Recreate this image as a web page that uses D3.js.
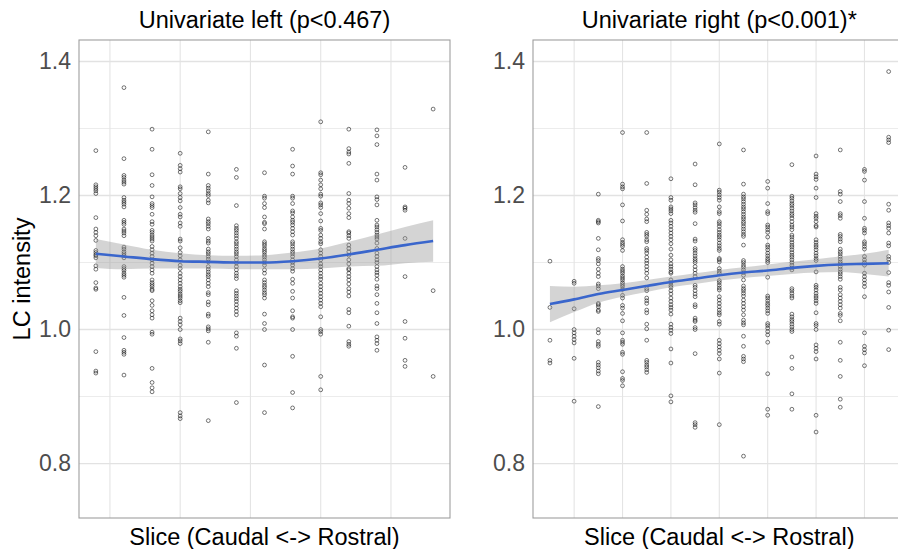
<!DOCTYPE html>
<html>
<head>
<meta charset="utf-8">
<script src="https://cdn.jsdelivr.net/npm/d3@7"></script>
<style>
  html, body { margin: 0; padding: 0; background: #fff; }
  svg { display: block; }
  text { font-family: "Liberation Sans", Arial, Helvetica, sans-serif; }
</style>
</head>
<body>
<svg id="chart" width="898" height="549"></svg>
<script>
// ---------------- DATA ----------------
const panelTitles = ["Univariate left (p<0.467)", "Univariate right (p<0.001)*"];
const xTitle = "Slice (Caudal <-> Rostral)";
const yTitle = "LC intensity";
const yMajorTicks = [0.8, 1.0, 1.2, 1.4];
const yMinorTicks = [0.9, 1.1, 1.3];
const leftXGrid = [1.5, 4, 6.5, 9, 11.5];
const rightXGrid = [2, 4, 6, 8, 10, 12, 14];

// points per slice (slice index = position in array + 1)
const leftPoints = [
  [1.267,1.216,1.213,1.21,1.207,1.203,1.167,1.15,1.145,1.14,1.133,1.118,1.115,1.112,1.11,1.107,1.095,1.09,1.07,1.062,1.06,0.967,0.938,0.935],
  [1.361,1.255,1.230,1.227,1.223,1.220,1.217,1.197,1.193,1.190,1.187,1.183,1.163,1.160,1.157,1.150,1.147,1.144,1.140,1.123,1.120,1.116,1.113,1.110,1.107,1.094,1.091,1.088,1.084,1.081,1.078,1.048,1.021,0.988,0.969,0.966,0.963,0.932],
  [1.299,1.269,1.231,1.215,1.198,1.188,1.185,1.182,1.172,1.161,1.157,1.148,1.145,1.141,1.138,1.135,1.132,1.124,1.119,1.114,1.109,1.104,1.099,1.094,1.089,1.084,1.074,1.070,1.067,1.064,1.060,1.058,1.043,1.036,1.028,1.022,1.017,0.996,0.993,0.942,0.921,0.913,0.907],
  [1.263,1.245,1.240,1.235,1.213,1.210,1.203,1.197,1.192,1.182,1.172,1.168,1.159,1.154,1.135,1.132,1.122,1.115,1.110,1.104,1.096,1.091,1.084,1.079,1.074,1.069,1.064,1.060,1.057,1.053,1.050,1.047,1.043,1.040,1.017,1.012,1.007,1.000,0.986,0.983,0.979,0.876,0.871,0.867],
  [1.295,1.232,1.215,1.211,1.207,1.203,1.200,1.193,1.189,1.165,1.161,1.158,1.154,1.150,1.136,1.132,1.129,1.120,1.116,1.113,1.109,1.105,1.101,1.094,1.090,1.086,1.082,1.079,1.074,1.069,1.064,1.055,1.052,1.041,1.037,1.023,1.020,1.004,1.001,0.998,0.981,0.864],
  [1.239,1.227,1.185,1.155,1.151,1.148,1.144,1.140,1.136,1.131,1.128,1.124,1.120,1.116,1.113,1.109,1.104,1.099,1.094,1.089,1.084,1.080,1.076,1.058,1.054,1.050,1.046,1.042,1.037,1.032,1.027,1.022,0.995,0.990,0.972,0.891],
  [1.234,1.199,1.196,1.188,1.182,1.168,1.160,1.158,1.150,1.131,1.128,1.125,1.121,1.118,1.115,1.111,1.108,1.104,1.100,1.096,1.089,1.084,1.074,1.070,1.066,1.063,1.059,1.055,1.052,1.047,1.023,1.009,1.000,0.947,0.876],
  [1.269,1.244,1.232,1.199,1.196,1.188,1.177,1.174,1.168,1.163,1.160,1.156,1.151,1.146,1.141,1.131,1.128,1.124,1.120,1.116,1.113,1.109,1.104,1.100,1.096,1.091,1.087,1.075,1.069,1.057,1.047,1.028,1.019,1.017,1.000,0.960,0.906,0.883],
  [1.310,1.234,1.231,1.223,1.216,1.210,1.202,1.199,1.189,1.186,1.182,1.173,1.162,1.151,1.148,1.141,1.136,1.131,1.128,1.119,1.114,1.109,1.104,1.098,1.094,1.089,1.084,1.079,1.075,1.069,1.064,1.059,1.054,1.049,1.044,1.039,1.034,1.019,1.000,0.997,0.993,0.930,0.910],
  [1.299,1.270,1.265,1.262,1.248,1.203,1.193,1.188,1.181,1.173,1.167,1.146,1.144,1.140,1.136,1.126,1.121,1.116,1.111,1.104,1.098,1.091,1.089,1.084,1.079,1.074,1.068,1.061,1.056,1.050,1.030,1.025,1.005,0.982,0.978,0.975],
  [1.298,1.289,1.276,1.232,1.223,1.198,1.194,1.186,1.163,1.156,1.153,1.149,1.145,1.141,1.138,1.135,1.129,1.121,1.114,1.109,1.104,1.100,1.094,1.089,1.085,1.081,1.075,1.065,1.061,1.052,1.039,1.025,1.009,0.989,0.984,0.979,0.969],
  [1.242,1.183,1.181,1.178,1.136,1.079,1.012,0.987,0.954,0.945],
  [1.329,1.058,0.930]
];
const rightPoints = [
  [1.102,1.033,0.984,0.954,0.950],
  [1.072,1.069,1.031,1.000,0.995,0.990,0.985,0.980,0.957,0.893],
  [1.202,1.163,1.161,1.159,1.136,1.119,1.106,1.103,1.098,1.090,1.084,1.079,1.068,1.065,1.061,1.039,1.037,1.034,1.029,1.027,1.000,0.995,0.982,0.978,0.975,0.951,0.947,0.943,0.938,0.934,0.885],
  [1.294,1.217,1.213,1.210,1.186,1.162,1.134,1.130,1.127,1.124,1.118,1.094,1.090,1.087,1.084,1.080,1.077,1.074,1.070,1.067,1.064,1.060,1.051,1.047,1.036,1.032,1.024,1.013,0.995,0.984,0.981,0.978,0.966,0.963,0.937,0.927,0.924,0.916],
  [1.294,1.218,1.178,1.172,1.165,1.161,1.145,1.142,1.139,1.134,1.131,1.121,1.118,1.114,1.108,1.103,1.099,1.094,1.089,1.084,1.077,1.061,1.058,1.047,1.043,1.039,1.029,1.025,1.008,1.001,0.984,0.954,0.951,0.947,0.944,0.940,0.936],
  [1.225,1.197,1.193,1.183,1.180,1.177,1.173,1.163,1.159,1.154,1.149,1.144,1.139,1.134,1.128,1.120,1.111,1.104,1.098,1.094,1.090,1.086,1.084,1.074,1.070,1.066,1.063,1.058,1.053,1.047,1.042,1.037,1.033,1.029,1.023,1.008,1.003,0.999,0.994,0.971,0.950,0.901,0.892],
  [1.247,1.216,1.189,1.186,1.182,1.178,1.175,1.158,1.135,1.132,1.121,1.118,1.114,1.110,1.106,1.103,1.100,1.094,1.089,1.084,1.079,1.066,1.063,1.058,1.053,1.049,1.037,1.034,1.017,1.014,1.012,1.003,1.000,0.964,0.861,0.858,0.854],
  [1.277,1.208,1.205,1.201,1.197,1.193,1.183,1.176,1.173,1.161,1.158,1.154,1.149,1.145,1.141,1.138,1.134,1.129,1.125,1.121,1.118,1.106,1.104,1.101,1.091,1.087,1.084,1.073,1.070,1.066,1.062,1.059,1.049,1.044,1.039,1.034,1.029,1.025,1.022,1.012,1.008,0.984,0.979,0.974,0.969,0.964,0.956,0.935,0.858],
  [1.268,1.217,1.202,1.198,1.195,1.191,1.187,1.183,1.180,1.176,1.172,1.168,1.165,1.161,1.158,1.154,1.150,1.146,1.142,1.139,1.126,1.103,1.100,1.096,1.093,1.089,1.085,1.081,1.074,1.065,1.061,1.058,1.054,1.050,1.044,1.039,1.034,1.029,1.022,1.014,1.010,1.007,0.990,0.975,0.960,0.956,0.952,0.811],
  [1.221,1.211,1.188,1.176,1.173,1.156,1.153,1.149,1.145,1.138,1.126,1.123,1.119,1.114,1.110,1.106,1.103,1.100,1.078,1.050,1.047,1.043,1.039,1.036,1.032,1.028,1.024,1.009,1.006,1.002,0.997,0.992,0.981,0.934,0.881,0.872],
  [1.246,1.199,1.196,1.192,1.188,1.185,1.181,1.177,1.173,1.170,1.166,1.161,1.156,1.153,1.149,1.141,1.138,1.134,1.130,1.126,1.123,1.119,1.115,1.111,1.108,1.104,1.100,1.096,1.092,1.089,1.061,1.058,1.054,1.050,1.047,1.023,1.019,1.015,1.012,1.008,1.004,1.000,0.997,0.959,0.942,0.904,0.881],
  [1.259,1.232,1.228,1.224,1.211,1.197,1.173,1.169,1.166,1.161,1.155,1.153,1.134,1.130,1.126,1.123,1.119,1.114,1.110,1.106,1.103,1.086,1.066,1.063,1.059,1.054,1.050,1.047,1.043,1.039,1.025,1.009,1.006,1.000,0.977,0.972,0.967,0.956,0.872,0.847],
  [1.268,1.206,1.202,1.191,1.173,1.170,1.166,1.142,1.139,1.135,1.131,1.120,1.116,1.113,1.109,1.105,1.101,1.098,1.094,1.090,1.086,1.083,1.079,1.075,1.063,1.059,1.052,1.047,1.042,1.037,1.032,1.024,1.021,1.013,0.981,0.954,0.930,0.896,0.884],
  [1.239,1.236,1.223,1.191,1.166,1.151,1.148,1.144,1.131,1.128,1.124,1.120,1.109,1.104,1.100,1.096,1.084,1.079,1.074,1.069,1.064,1.049,0.995,0.975,0.970,0.965,0.946],
  [1.385,1.287,1.283,1.279,1.187,1.178,1.159,1.155,1.151,1.144,1.129,1.125,1.109,1.105,1.100,1.085,1.070,1.066,1.056,1.033,0.999,0.970]
];

// smooth fit (per slice) and confidence band
const leftFit = [1.113,1.109,1.105,1.102,1.101,1.100,1.100,1.102,1.106,1.112,1.119,1.126,1.132];
const leftHi  = [1.135,1.127,1.119,1.114,1.111,1.110,1.111,1.115,1.121,1.131,1.142,1.153,1.163];
const leftLo  = [1.092,1.090,1.091,1.091,1.091,1.090,1.090,1.090,1.091,1.094,1.095,1.099,1.101];
const rightFit = [1.038,1.045,1.053,1.059,1.065,1.071,1.076,1.081,1.085,1.088,1.092,1.095,1.097,1.098,1.099];
const rightHi  = [1.065,1.064,1.066,1.069,1.074,1.079,1.084,1.089,1.093,1.097,1.101,1.105,1.109,1.113,1.119];
const rightLo  = [1.011,1.026,1.040,1.049,1.056,1.063,1.068,1.073,1.077,1.080,1.083,1.085,1.086,1.083,1.079];

// ---------------- LAYOUT ----------------
const svg = d3.select("#chart");
svg.append("rect").attr("width", 898).attr("height", 549).attr("fill", "#fff");

const yTop = 40, yBottom = 518;
const y = d3.scaleLinear().domain([0.7187, 1.4321]).range([yBottom, yTop]);

const panels = [
  { title: panelTitles[0], pts: leftPoints, fit: leftFit, hi: leftHi, lo: leftLo, xGrid: leftXGrid, x0: 79, x1: 450 },
  { title: panelTitles[1], pts: rightPoints, fit: rightFit, hi: rightHi, lo: rightLo, xGrid: rightXGrid, x0: 533, x1: 905.6 }
];

panels.forEach((p) => {
  const n = p.pts.length;
  const pad = (n - 1) * 0.05;
  const x = d3.scaleLinear().domain([1 - pad, n + pad]).range([p.x0, p.x1]);
  const g = svg.append("g");

  // grid
  g.selectAll(".ymin").data(yMinorTicks).join("line").attr("class", "ymin")
    .attr("x1", p.x0).attr("x2", p.x1).attr("y1", d => y(d)).attr("y2", d => y(d))
    .attr("stroke", "#ececec").attr("stroke-width", 1);
  g.selectAll(".xg").data(p.xGrid).join("line").attr("class", "xg")
    .attr("x1", d => x(d)).attr("x2", d => x(d)).attr("y1", yTop).attr("y2", yBottom)
    .attr("stroke", "#e4e4e4").attr("stroke-width", 1.1);
  g.selectAll(".ymaj").data(yMajorTicks).join("line").attr("class", "ymaj")
    .attr("x1", p.x0).attr("x2", p.x1).attr("y1", d => y(d)).attr("y2", d => y(d))
    .attr("stroke", "#e2e2e2").attr("stroke-width", 1.3);

  // points
  const flat = [];
  p.pts.forEach((arr, i) => arr.forEach(v => flat.push({ s: i + 1, v })));
  g.selectAll("circle").data(flat).join("circle")
    .attr("cx", d => x(d.s)).attr("cy", d => y(d.v)).attr("r", 1.9)
    .attr("fill", "none").attr("stroke", "#111").attr("stroke-opacity", 0.68).attr("stroke-width", 0.85);

  // confidence band
  const idx = d3.range(n);
  g.append("path").datum(idx)
    .attr("d", d3.area().x(i => x(i + 1)).y0(i => y(p.lo[i])).y1(i => y(p.hi[i])).curve(d3.curveMonotoneX))
    .attr("fill", "#999").attr("fill-opacity", 0.42);
  // fit line
  g.append("path").datum(idx)
    .attr("d", d3.line().x(i => x(i + 1)).y(i => y(p.fit[i])).curve(d3.curveMonotoneX))
    .attr("fill", "none").attr("stroke", "#3a66cc").attr("stroke-width", 2.6);

  // panel border
  g.append("rect").attr("x", p.x0).attr("y", yTop).attr("width", p.x1 - p.x0).attr("height", yBottom - yTop)
    .attr("fill", "none").attr("stroke", "#9e9e9e").attr("stroke-width", 1.1);

  // y axis labels
  const ax = svg.append("g").attr("transform", `translate(${p.x0},0)`)
    .call(d3.axisLeft(y).tickValues(yMajorTicks).tickFormat(d3.format(".1f")).tickSize(0).tickPadding(8));
  ax.select(".domain").remove();
  ax.selectAll("text").attr("font-size", 23).attr("fill", "#4d4d4d")
    .attr("font-family", '"Liberation Sans", Arial, sans-serif');

  // titles
  const cx = (p.x0 + p.x1) / 2;
  svg.append("text").attr("x", cx).attr("y", 28).attr("text-anchor", "middle")
    .attr("font-size", 23.5).attr("fill", "#000").text(p.title);
  svg.append("text").attr("x", cx).attr("y", 545).attr("text-anchor", "middle")
    .attr("font-size", 23.5).attr("fill", "#000").text(xTitle);
});

svg.append("text").attr("transform", `translate(30,${(yTop + yBottom) / 2}) rotate(-90)`)
  .attr("text-anchor", "middle").attr("font-size", 23.5).attr("fill", "#000").text(yTitle);
</script>
</body>
</html>
